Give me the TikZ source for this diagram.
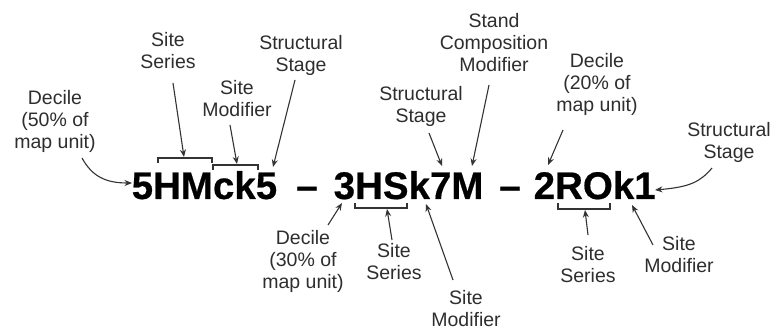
\documentclass[tikz,border=0pt]{standalone}
\usepackage{fontspec}
\setmainfont{Liberation Sans}
\newfontfamily\codefont[FakeBold=0.5]{Liberation Sans Bold}
\usetikzlibrary{arrows.meta}
\definecolor{lbl}{HTML}{2E2E2E}
\definecolor{ln}{HTML}{333333}
\tikzset{
  lab/.style={anchor=base, align=center, inner sep=0pt, text=lbl,
    font=\fontsize{19.5}{22}\selectfont},
  code/.style={anchor=base west, inner sep=0pt, text=black,
    font=\fontsize{38.5}{40}\selectfont\codefont},
  arr/.style={draw=ln, line width=1.1pt, -{Stealth[length=7.5pt,width=6pt]}},
  brk/.style={draw=ln, line width=1.1pt},
}
\begin{document}
\begin{tikzpicture}[x=1pt,y=-1pt]
\useasboundingbox[fill=white] (0,0) rectangle (776,331);
% code string
\node[code] (c1) at (131.5,199) {5HMck5};
\node[code,anchor=base] (d1) at (307,199) {–};
\node[code] (c2) at (333.5,199) {3HSk7M};
\node[code,anchor=base] (d2) at (510,199) {–};
\node[code] (c3) at (533.5,199) {2ROk1};
% labels (anchor = baseline of last line)
\node[lab] (dec50) at (55,149) {Decile\\(50\% of\\map unit)};
\node[lab] (ss1) at (168,69) {Site\\Series};
\node[lab] (sm1) at (237,117) {Site\\Modifier};
\node[lab] (st1) at (301,72) {Structural\\Stage};
\node[lab] (sc) at (494,72) {Stand\\Composition\\Modifier};
\node[lab] (st2) at (421,123) {Structural\\Stage};
\node[lab] (dec20) at (597,112) {Decile\\(20\% of\\map unit)};
\node[lab] (st3) at (729,159) {Structural\\Stage};
\node[lab] (dec30) at (303,288) {Decile\\(30\% of\\map unit)};
\node[lab] (ss2) at (394,279) {Site\\Series};
\node[lab] (sm2) at (466,326) {Site\\Modifier};
\node[lab] (ss3) at (588,282) {Site\\Series};
\node[lab] (sm3) at (679,272) {Site\\Modifier};
% brackets
\draw[brk] (158,163) -- (158,158) -- (212,158) -- (212,163);
\draw[brk] (213,170) -- (213,165) -- (258,165) -- (258,170);
\draw[brk] (355,203) -- (355,208) -- (407,208) -- (407,203);
\draw[brk] (558,203) -- (558,209) -- (610,209) -- (610,203);
% arrow targets
\coordinate (tHM) at (184,157);
\coordinate (tck) at (237,164);
\coordinate (t5) at (273,167);
\coordinate (t5a) at (132,183);
\coordinate (t3) at (342,203);
\coordinate (tHS) at (387,209);
\coordinate (tk2u) at (426,204);
\coordinate (tk2d) at (442,166);
\coordinate (tM) at (472,166);
\coordinate (t2) at (548,165);
\coordinate (tRO) at (585,210);
\coordinate (tk3) at (632,205);
\coordinate (t1) at (655,190);
% arrow starts
\coordinate (sdec50) at (82,158);
\coordinate (sss1) at (173,83);
\coordinate (ssm1) at (230,125);
\coordinate (sst1) at (295,80);
\coordinate (sdec30) at (328,225);
\coordinate (sss2) at (392,240);
\coordinate (ssm2) at (453,280);
\coordinate (sst2) at (429,133);
\coordinate (ssc) at (489,85);
\coordinate (sdec20) at (563,130);
\coordinate (sss3) at (588,235);
\coordinate (ssm3) at (653,245);
\coordinate (sst3) at (712,168);
% arrows
\draw[arr] (sdec50) .. controls (92,176) and (105,183) .. (t5a);
\draw[arr] (sss1) -- (tHM);
\draw[arr] (ssm1) -- (tck);
\draw[arr] (sst1) -- (t5);
\draw[arr] (sdec30) -- (t3);
\draw[arr] (sss2) -- (tHS);
\draw[arr] (ssm2) -- (tk2u);
\draw[arr] (sst2) -- (tk2d);
\draw[arr] (ssc) -- (tM);
\draw[arr] (sdec20) -- (t2);
\draw[arr] (sss3) -- (tRO);
\draw[arr] (ssm3) -- (tk3);
\draw[arr] (sst3) .. controls (700,182) and (690,187) .. (t1);
\end{tikzpicture}
\end{document}
